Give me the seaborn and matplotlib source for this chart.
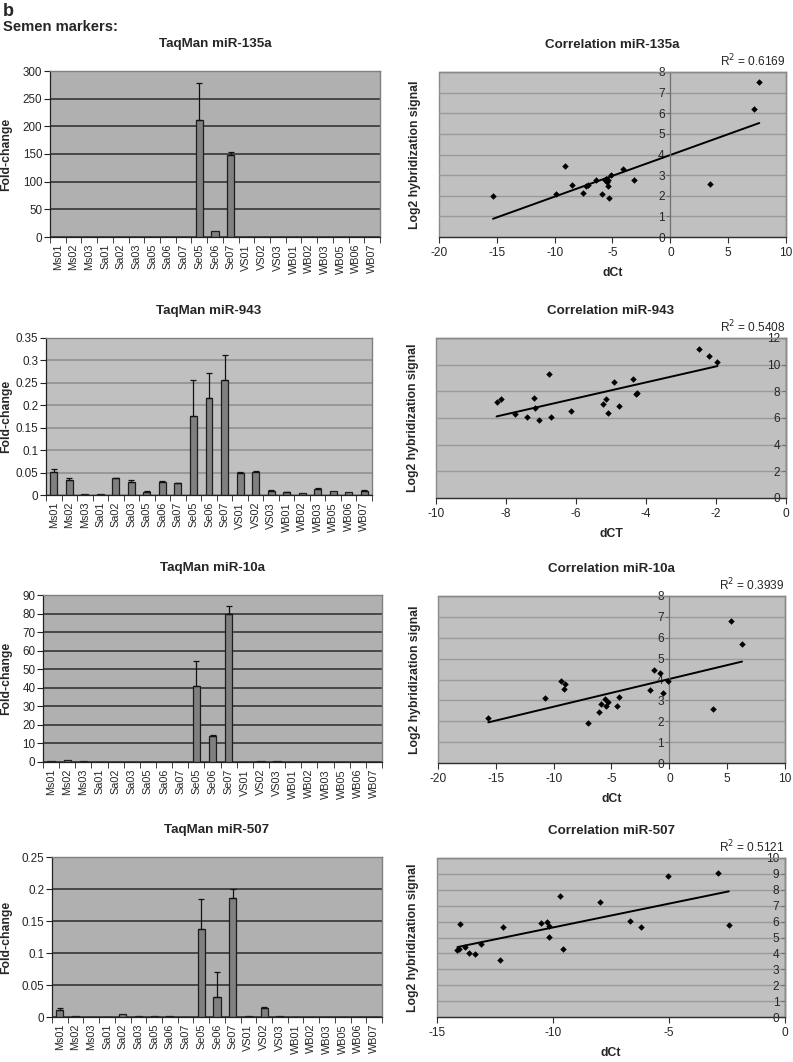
import numpy as np
import matplotlib
matplotlib.use("Agg")
import matplotlib.pyplot as plt
from matplotlib.ticker import FuncFormatter, MultipleLocator
import seaborn as sns

sns.set_style("white")
plt.rcParams['font.family'] = ['Liberation Sans', 'DejaVu Sans']

# samples on the TaqMan bar charts
samples = ['Ms01', 'Ms02', 'Ms03', 'Sa01', 'Sa02', 'Sa03', 'Sa05', 'Sa06', 'Sa07',
           'Se05', 'Se06', 'Se07', 'VS01', 'VS02', 'VS03',
           'WB01', 'WB02', 'WB03', 'WB05', 'WB06', 'WB07']

# fold-change and upper error (per sample)
fc_135a = [0, 0, 0, 0, 0, 0, 0, 0, 0, 212, 10.5, 149, 0, 0, 0, 0, 0, 0, 0, 0, 0]
err_135a = [0, 0, 0, 0, 0, 0, 0, 0, 0, 66, 0, 5, 0, 0, 0, 0, 0, 0, 0, 0, 0]

fc_943 = [0.0506, 0.0335, 0.003, 0.003, 0.037, 0.029, 0.007, 0.029, 0.026,
          0.176, 0.217, 0.257, 0.048, 0.052, 0.009, 0.006, 0.004, 0.014, 0.008, 0.007, 0.010]
err_943 = [0.0074, 0.0035, 0, 0, 0.001, 0.004, 0.001, 0.002, 0.001,
           0.081, 0.054, 0.054, 0.004, 0.002, 0.002, 0.001, 0, 0.001, 0, 0, 0.001]

fc_10a = [0.6, 1.0, 0.4, 0, 0, 0, 0, 0, 0, 41, 14, 80, 0, 0.7, 0.4, 0, 0, 0, 0, 0, 0]
err_10a = [0, 0, 0, 0, 0, 0, 0, 0, 0, 13.4, 0.7, 4, 0, 0, 0, 0, 0, 0, 0, 0, 0]

fc_507 = [0.0104, 0.0015, 0, 0, 0.004, 0.0008, 0.0008, 0.0008, 0,
          0.138, 0.031, 0.186, 0.0008, 0.014, 0.0008, 0, 0, 0, 0, 0, 0]
err_507 = [0.003, 0, 0, 0, 0, 0, 0, 0, 0,
           0.046, 0.040, 0.014, 0, 0.0015, 0, 0, 0, 0, 0, 0, 0]

# correlation scatter data: dCt vs log2 hybridization signal
dct_135a = [-15.33, -9.07, -9.85, -8.46, -7.25, -7.16, -7.54, -6.44, -5.87, -5.69, -5.52,
            -5.46, -5.35, -5.29, -5.17, -5.6, -5.4, -4.08, -3.13, 3.42, 7.23, 7.69]
sig_135a = [2.0, 3.44, 2.08, 2.52, 2.46, 2.51, 2.13, 2.74, 2.10, 2.74, 2.79,
            2.65, 2.46, 1.89, 3.0, 2.80, 2.75, 3.32, 2.74, 2.57, 6.2, 7.51]

dct_943 = [-8.27, -8.15, -7.73, -7.39, -7.20, -7.16, -7.06, -6.77, -6.71, -6.15, -5.24,
           -5.15, -5.09, -4.92, -4.76, -4.38, -4.29, -4.27, -2.50, -2.21, -1.96]
sig_943 = [7.23, 7.43, 6.30, 6.10, 7.53, 6.75, 5.85, 9.31, 6.10, 6.53, 7.08,
           7.43, 6.35, 8.69, 6.88, 8.89, 7.78, 7.91, 11.17, 10.65, 10.19]

dct_10a = [-15.65, -10.76, -9.35, -9.06, -9.12, -6.99, -6.06, -5.89, -5.57, -5.48, -5.26,
           -4.54, -4.31, -1.69, -1.34, -0.79, -0.54, -0.08, 3.78, 5.34, 6.29]
sig_10a = [2.14, 3.12, 3.94, 3.79, 3.55, 1.90, 2.43, 2.82, 3.06, 2.75, 2.94,
           2.75, 3.17, 3.49, 4.45, 4.30, 3.33, 3.94, 2.59, 6.80, 5.70]

dct_507 = [-14.12, -14.07, -14.0, -13.78, -13.62, -13.36, -13.09, -12.27, -12.14, -10.50,
           -10.27, -10.18, -10.18, -9.68, -9.58, -7.98, -6.69, -6.20, -5.05, -2.88, -2.42]
sig_507 = [4.19, 4.30, 5.85, 4.38, 4.0, 3.94, 4.57, 3.56, 5.68, 5.91,
           6.0, 5.70, 5.01, 7.59, 4.30, 7.23, 6.06, 5.68, 8.85, 9.06, 5.79]

fmt_g = FuncFormatter(lambda v, p: '{:g}'.format(round(v, 6)))

fig = plt.figure(figsize=(7.93, 10.62), dpi=100)
W, H = 793.0, 1062.0


def axes_px(x0, y0, x1, y1):
    return fig.add_axes([x0 / W, 1 - y1 / H, (x1 - x0) / W, (y1 - y0) / H])


def bar_panel(box, title, vals, errs, ymax, step, bg, grid, lab_x):
    ax = axes_px(*box)
    sns.barplot(x=samples, y=vals, color='#808080', edgecolor='#1e1e1e', linewidth=0.9,
                width=0.45, saturation=1, ax=ax)
    idx = [i for i, e in enumerate(errs) if e > 0]
    ax.errorbar([i for i in idx], [vals[i] for i in idx],
                yerr=[[0] * len(idx), [errs[i] for i in idx]],
                fmt='none', ecolor='#111111', elinewidth=0.9, capsize=2.2, capthick=0.9)
    ax.set_facecolor(bg)
    ax.set_axisbelow(True)
    ax.yaxis.grid(True, color=grid, linewidth=1.1)
    ax.set_xlim(-0.5, len(samples) - 0.5)
    ax.set_ylim(0, ymax)
    ax.yaxis.set_major_locator(MultipleLocator(step))
    ax.yaxis.set_major_formatter(fmt_g)
    ax.set_xticks(range(len(samples)))
    ax.set_xticklabels(samples, rotation=90, fontsize=7.8)
    ax.set_xticks(np.arange(-0.5, len(samples)), minor=True)
    ax.tick_params(axis='x', which='major', length=0, pad=5)
    ax.tick_params(axis='x', which='minor', length=4, direction='out', color='#222222', bottom=True)
    ax.tick_params(axis='y', length=4, direction='out', color='#222222', labelsize=8.4, left=True, pad=1.5)
    for s in ['top', 'right']:
        ax.spines[s].set_color('#808080')
        ax.spines[s].set_linewidth(1.0)
    for s in ['left', 'bottom']:
        ax.spines[s].set_color('#222222')
        ax.spines[s].set_linewidth(0.9)
    ax.set_title(title, fontsize=9.6, fontweight='bold', pad=17)
    ax.set_ylabel('Fold-change', fontsize=8.8, fontweight='bold')
    ax.yaxis.set_label_coords(lab_x, 0.5)
    return ax


def scatter_panel(box, title, xs, ys, xlim, xstep, ymax, ystep, r2, xlab, lab_x):
    ax = axes_px(*box)
    ax.set_facecolor('#c0c0c0')
    ax.set_axisbelow(True)
    ax.yaxis.grid(True, color='#9a9a9a', linewidth=1.0)
    sns.regplot(x=xs, y=ys, scatter=False, ci=None, truncate=True, color='black',
                line_kws={'linewidth': 1.4}, ax=ax)
    sns.scatterplot(x=xs, y=ys, marker='D', s=11, color='black', edgecolor='black',
                    linewidth=0, ax=ax, zorder=3)
    ax.set_xlim(*xlim)
    ax.set_ylim(0, ymax)
    ax.xaxis.set_major_locator(MultipleLocator(xstep))
    ax.yaxis.set_major_locator(MultipleLocator(ystep))
    ax.xaxis.set_major_formatter(fmt_g)
    ax.yaxis.set_major_formatter(fmt_g)
    ax.spines['left'].set_position(('data', 0))
    ax.spines['left'].set_color('#707070')
    ax.spines['left'].set_linewidth(0.9)
    ax.spines['bottom'].set_color('#303030')
    ax.spines['bottom'].set_linewidth(0.9)
    for s in ['top', 'right']:
        ax.spines[s].set_color('#8a8a8a')
        ax.spines[s].set_linewidth(1.0)
    ax.patch.set_edgecolor('#8a8a8a')
    ax.patch.set_linewidth(1.0)
    ax.tick_params(axis='x', length=4, direction='out', color='#303030', labelsize=8.6, bottom=True, pad=3)
    ax.tick_params(axis='y', length=3, direction='out', color='#707070', labelsize=8.6, left=True, pad=1)
    ax.set_title(title, fontsize=9.6, fontweight='bold', pad=17)
    ax.text(1.0, 1.015, 'R$^2$ = ' + r2, transform=ax.transAxes, ha='right', va='bottom', fontsize=8.6)
    ax.set_xlabel(xlab, fontsize=8.8, fontweight='bold', labelpad=6)
    ax.set_ylabel('Log2 hybridization signal', fontsize=8.8, fontweight='bold')
    ax.yaxis.set_label_coords(lab_x, 0.5)
    return ax


dark_bg, dark_grid = '#b0b0b0', '#2a2a2a'

bar_panel((50, 71, 380, 237), 'TaqMan miR-135a', fc_135a, err_135a, 300, 50, dark_bg, dark_grid, -0.115)
bar_panel((46, 338, 372, 495), 'TaqMan miR-943', fc_943, err_943, 0.35, 0.05, '#c0c0c0', '#8c8c8c', -0.104)
bar_panel((43, 595, 382, 762), 'TaqMan miR-10a', fc_10a, err_10a, 90, 10, dark_bg, dark_grid, -0.091)
bar_panel((52, 857, 382, 1017), 'TaqMan miR-507', fc_507, err_507, 0.25, 0.05, dark_bg, dark_grid, -0.121)

scatter_panel((439, 72, 786, 237), 'Correlation miR-135a', dct_135a, sig_135a, (-20, 10), 5, 8, 1, '0.6169', 'dCt', -0.052)
scatter_panel((436, 338, 786, 498), 'Correlation miR-943', dct_943, sig_943, (-10, 0), 2, 12, 2, '0.5408', 'dCT', -0.049)
scatter_panel((438, 596, 785, 763), 'Correlation miR-10a', dct_10a, sig_10a, (-20, 10), 5, 8, 1, '0.3939', 'dCt', -0.049)
scatter_panel((437, 858, 785, 1017), 'Correlation miR-507', dct_507, sig_507, (-15, 0), 5, 10, 1, '0.5121', 'dCt', -0.052)

fig.text(3 / W, 1 - 11 / H, 'b', fontsize=13, fontweight='bold', ha='left', va='center')
fig.text(3 / W, 1 - 27 / H, 'Semen markers:', fontsize=10.6, fontweight='bold', ha='left', va='center')

fig.savefig('out.png', dpi=100)
